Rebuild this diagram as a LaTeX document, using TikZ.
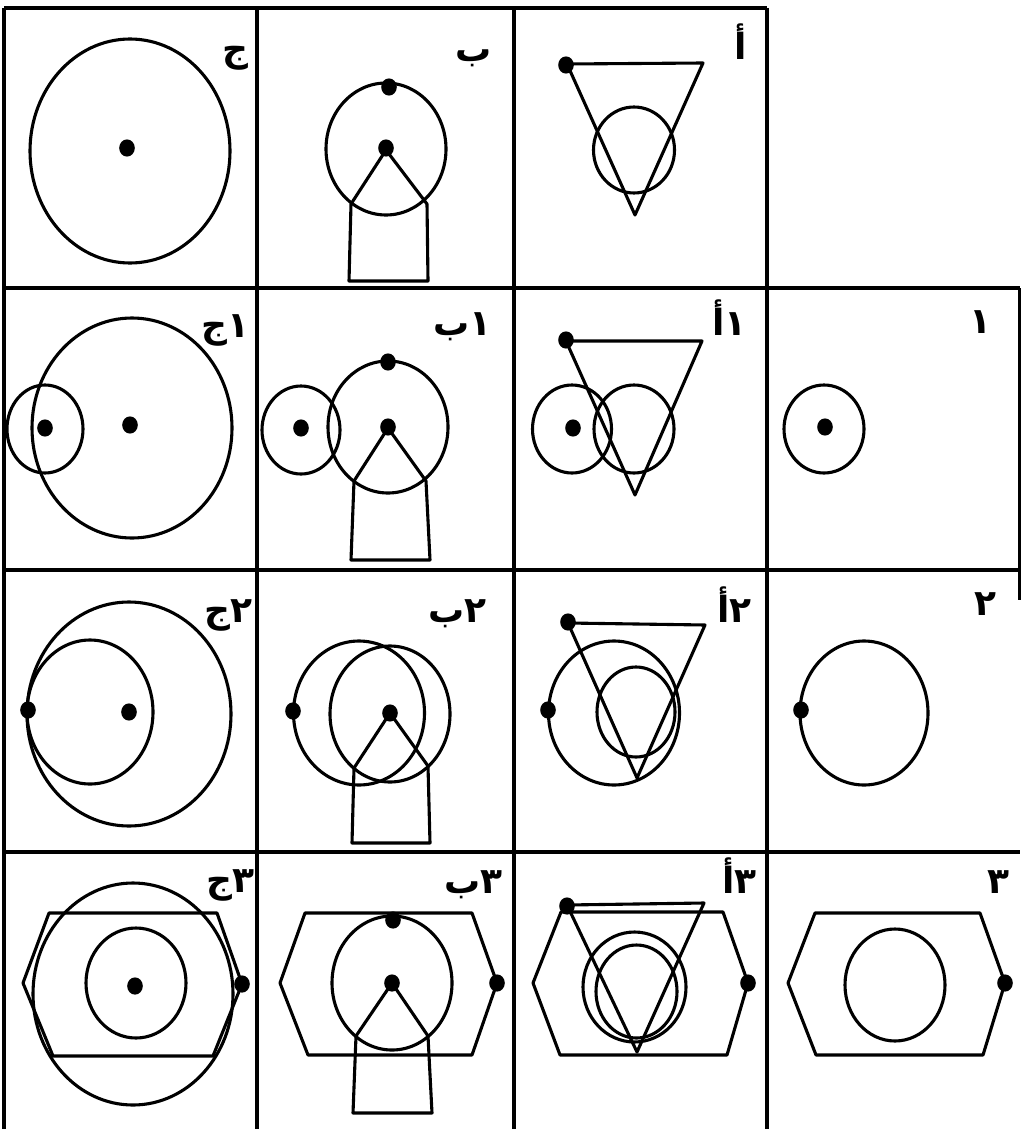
\documentclass[tikz,border=0pt]{standalone}
\usepackage{fontspec}
\TeXXeTstate=1
\newfontfamily\arabicfont[Script=Arabic]{DejaVu Sans Bold}
\tikzset{
  sh/.style={line width=3.1pt, line join=round},
  gridline/.style={line width=3.1pt},
  lbl/.style={anchor=base east, inner sep=0pt, font=\arabicfont\fontsize{36}{36}\selectfont}
}
\newcommand\bigdot[1]{\fill #1 ellipse [x radius=7.8pt, y radius=8.6pt];}
\newcommand\numlbl[2]{\beginR #1\kern0pt #2\endR}
\begin{document}
\begin{tikzpicture}[x=1pt,y=-1pt]
\useasboundingbox (0,0) rectangle (1021,1129);
% grid
\draw[gridline] (4,8) -- (767,8);
\draw[gridline] (4,288) -- (1020,288);
\draw[gridline] (4,570) -- (1020,570);
\draw[gridline] (4,852) -- (1020,852);
\draw[gridline] (4,8) -- (4,1129);
\draw[gridline] (257,8) -- (257,1129);
\draw[gridline] (514,8) -- (514,1129);
\draw[gridline] (767,8) -- (767,1129);
\draw[gridline] (1019.5,288) -- (1019.5,600);
% ---------- row 1
\draw[sh] (130,151) ellipse [x radius=100pt, y radius=112pt];
\bigdot{(127,148)}
\node[lbl] (l11) at (249,62) {\beginR ج\endR};
\draw[sh] (386,149) ellipse [x radius=60pt, y radius=66pt];
\bigdot{(389,87)} \bigdot{(386,148)}
\draw[sh] (386,150) -- (351,204) -- (349,281) -- (428,281) -- (427,204) -- cycle;
\node[lbl] (l12) at (492,62) {\beginR ب\endR};
\draw[sh] (567,64) -- (703,63) -- (635,215) -- cycle;
\bigdot{(566,65)}
\draw[sh] (634,150) ellipse [x radius=40.5pt, y radius=43pt];
\node[lbl] (l13) at (747,60) {\beginR أ\endR};
% ---------- row 2
\draw[sh] (132,428) ellipse [x radius=100pt, y radius=110pt];
\bigdot{(130,425)}
\draw[sh] (45,429) ellipse [x radius=38pt, y radius=44pt];
\bigdot{(45,428)}
\node[lbl] (l21) at (250,337) {\numlbl{١}{ج}};
\draw[sh] (301,430) ellipse [x radius=39pt, y radius=44pt];
\bigdot{(301,428)}
\draw[sh] (388,427) ellipse [x radius=60pt, y radius=66pt];
\bigdot{(388,362)} \bigdot{(388,427)}
\draw[sh] (388,428) -- (354,481) -- (351,560) -- (430,560) -- (426,481) -- cycle;
\node[lbl] (l22) at (492,335) {\numlbl{١}{ب}};
\draw[sh] (566,341) -- (702,341) -- (635,495) -- cycle;
\bigdot{(566,340)}
\draw[sh] (572,429) ellipse [x radius=39.5pt, y radius=44pt];
\bigdot{(573,428)}
\draw[sh] (634,429) ellipse [x radius=40pt, y radius=44pt];
\node[lbl] (l23) at (747,335) {\numlbl{١}{أ}};
\draw[sh] (824,429) ellipse [x radius=40pt, y radius=44pt];
\bigdot{(825,427)}
\node[lbl] (l24) at (992,333) {\beginR ١\endR};
% ---------- row 3
\draw[sh] (129,714) ellipse [x radius=102pt, y radius=112pt];
\draw[sh] (90,712) ellipse [x radius=63pt, y radius=72pt];
\bigdot{(129,712)} \bigdot{(28,710)}
\node[lbl] (l31) at (253,622) {\numlbl{٢}{ج}};
\draw[sh] (359,713) ellipse [x radius=65.5pt, y radius=72pt];
\bigdot{(293,711)}
\draw[sh] (390,714) ellipse [x radius=60pt, y radius=68pt];
\bigdot{(390,713)}
\draw[sh] (390,713) -- (354,768) -- (352,843) -- (430,843) -- (428,766) -- cycle;
\node[lbl] (l32) at (487,622) {\numlbl{٢}{ب}};
\draw[sh] (568,623) -- (705,625) -- (637,778) -- cycle;
\bigdot{(568,622)}
\draw[sh] (614,713) ellipse [x radius=65.5pt, y radius=72pt];
\bigdot{(548,710)}
\draw[sh] (636,712) ellipse [x radius=39pt, y radius=45pt];
\node[lbl] (l33) at (752,622) {\numlbl{٢}{أ}};
\draw[sh] (864,713) ellipse [x radius=64pt, y radius=72pt];
\bigdot{(801,710)}
\node[lbl] (l34) at (997,615) {\beginR ٢\endR};
% ---------- row 4
\draw[sh] (133,994) ellipse [x radius=100pt, y radius=111pt];
\draw[sh] (49,913) -- (217,913) -- (242,984) -- (213,1056) -- (53,1056) -- (23,983) -- cycle;
\bigdot{(242,984)}
\draw[sh] (136,983) ellipse [x radius=50pt, y radius=55pt];
\bigdot{(135,986)}
\node[lbl] (l41) at (255,892) {\numlbl{٣}{ج}};
\draw[sh] (305,913) -- (472,913) -- (497,983) -- (472,1055) -- (308,1055) -- (280,983) -- cycle;
\bigdot{(497,983)}
\draw[sh] (392,983) ellipse [x radius=60pt, y radius=67pt];
\bigdot{(393,920)} \bigdot{(392,983)}
\draw[sh] (392,983) -- (356,1036) -- (353,1113) -- (432,1113) -- (428,1036) -- cycle;
\node[lbl] (l42) at (503,893) {\numlbl{٣}{ب}};
\draw[sh] (561,912) -- (723,912) -- (748,983) -- (727,1055) -- (560,1055) -- (533,983) -- cycle;
\bigdot{(748,983)}
\draw[sh] (567,905) -- (704,903) -- (637,1052) -- cycle;
\bigdot{(567,906)}
\draw[sh] (634.5,987) ellipse [x radius=51.5pt, y radius=55pt];
\draw[sh] (636.5,991.5) ellipse [x radius=40.5pt, y radius=46.5pt];
\node[lbl] (l43) at (757,893) {\numlbl{٣}{أ}};
\draw[sh] (815,913) -- (980,913) -- (1005,983) -- (983,1055) -- (816,1055) -- (788,983) -- cycle;
\bigdot{(1005,983)}
\draw[sh] (895,985) ellipse [x radius=50pt, y radius=56pt];
\node[lbl] (l44) at (1010,893) {\beginR ٣\endR};
\end{tikzpicture}
\end{document}
